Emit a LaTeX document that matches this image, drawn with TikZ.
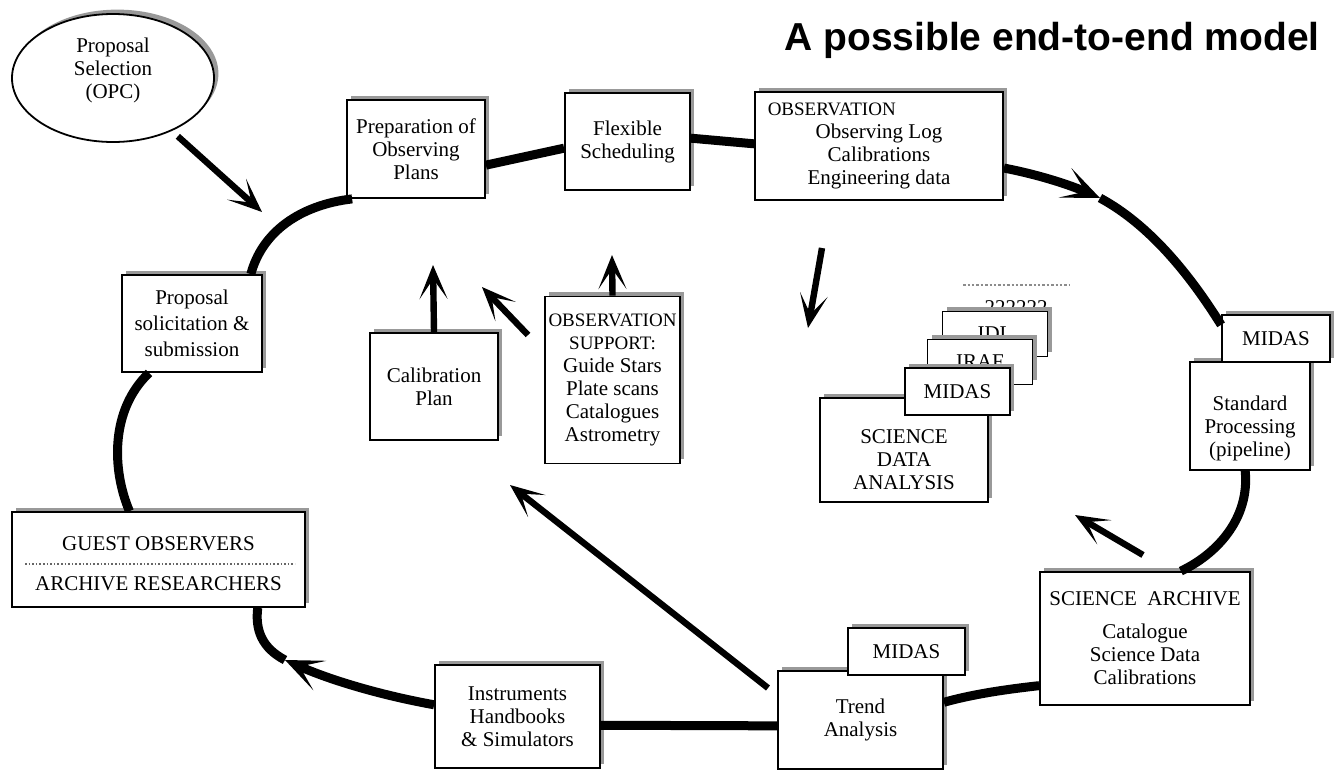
\documentclass[tikz,border=0pt]{standalone}
\usepackage{fontspec}
\setmainfont{Liberation Serif}
\newfontfamily\headfont{Liberation Sans}
\newcommand\capsz{\fontsize{9.5}{11.5}\selectfont}
\usetikzlibrary{arrows.meta,shadows,shapes.geometric}
\tikzset{
  box/.style={draw,line width=0.9pt,fill=white,align=center,inner sep=0pt,
    font=\fontsize{10.5}{11.5}\selectfont,
    drop shadow={shadow xshift=2.2pt,shadow yshift=2.2pt,fill=black!40,opacity=1}},
  txt/.style={align=center,inner sep=0pt,font=\fontsize{10.5}{11.5}\selectfont},
  ring/.style={line width=4.5pt},
  flow/.style={line width=3.2pt,-{Stealth[length=17pt,width=14pt,inset=10pt]}},
  ringtip/.style={ring,-{Stealth[length=19pt,width=16pt,inset=11pt]}},
}
\begin{document}
\begin{tikzpicture}[x=0.5pt,y=-0.5pt]
\useasboundingbox (0,0) rectangle (1334,772);
% title
\node[font=\headfont\bfseries\fontsize{19.5}{22}\selectfont] (title) at (1052,40) {A possible end-to-end model};
% proposal selection
\node[box,shape=ellipse,minimum width=101pt,minimum height=64pt] (opc) at (113,78) {};
\node[txt] (opclbl) at (113,70) {Proposal\\Selection\\(OPC)};
% boxes on the cycle
\node[box,minimum width=69pt,minimum height=49pt] (prep) at (416,149) {Preparation of\\Observing\\Plans};
\node[box,minimum width=62.5pt,minimum height=48.5pt] (flex) at (627.5,141.5) {Flexible\\Scheduling};
\node[box,minimum width=124pt,minimum height=54pt] (obs) at (879,146) {\hspace*{-4.5em}{\capsz OBSERVATION}\\Observing Log\\Calibrations\\Engineering data};
\node[box,minimum width=70pt,minimum height=48.5pt] (prop) at (192,323.5) {Proposal\\[1.5pt]solicitation \&\\[1.5pt]submission};
\node[box,minimum width=146.5pt,minimum height=47.5pt] (guest) at (158.5,559.5) {};
\node[txt] (guestA) at (158.5,544) {GUEST OBSERVERS};
\node[txt] (guestB) at (158.5,584) {ARCHIVE RESEARCHERS};
\draw[densely dotted,line width=0.8pt,black!60] (25,564) -- (295,564);
\node[box,minimum width=60pt,minimum height=54pt] (std) at (1250,416) {};
\node[txt] (stdlbl) at (1250,428) {Standard\\Processing\\(pipeline)};
\node[box,minimum width=54pt,minimum height=23.5pt] (midstd) at (1276,338.5) {MIDAS};
\node[box,minimum width=105pt,minimum height=66.5pt] (arch) at (1145,638.5) {SCIENCE\ \ ARCHIVE\\[5pt]Catalogue\\Science Data\\Calibrations};
\node[box,minimum width=82.5pt,minimum height=49pt] (trend) at (860.5,720) {Trend\\Analysis};
\node[box,minimum width=58.5pt,minimum height=23.5pt] (midtr) at (906.5,651.5) {MIDAS};
\node[box,minimum width=82.5pt,minimum height=51.5pt] (instr) at (517.5,716.5) {Instruments\\Handbooks\\\& Simulators};
% boxes inside the cycle
\node[box,minimum width=64pt,minimum height=53.5pt] (calib) at (434,386.5) {Calibration\\Plan};
\node[box,minimum width=67.5pt,minimum height=83.5pt] (sup) at (612.5,380) {{\capsz OBSERVATION}\\{\capsz SUPPORT:}\\Guide Stars\\Plate scans\\Catalogues\\Astrometry};
% stacked analysis packages
\node[txt,fill=white,minimum width=52.5pt,minimum height=22.5pt] (pk6) at (1016,308) {222222};
\draw[densely dotted,line width=1.2pt,black!45] (pk6.north west) -- (pk6.north east);
\node[box,minimum width=52.5pt,minimum height=22.5pt] (idl) at (995,334) {IDL};
\node[box,minimum width=52.5pt,minimum height=22.5pt] (iraf) at (980,362) {IRAF};
\node[box,minimum width=84pt,minimum height=52pt] (sda) at (904,450) {};
\node[txt] (sdalbl) at (904,460) {SCIENCE\\DATA\\ANALYSIS};
\node[box,minimum width=52.5pt,minimum height=23.5pt] (midsda) at (957.5,391.5) {MIDAS};
% free ends
\coordinate (opctip) at (262,212);
\coordinate (caltip) at (433,265);
\coordinate (suptail) at (528,335);
\coordinate (suptip) at (482,287);
\coordinate (fltip) at (612,255);
\coordinate (obstail) at (822,248);
\coordinate (obstip) at (808,328);
\coordinate (arctail) at (1143,555);
\coordinate (arctip) at (1075,515);
\coordinate (trtail) at (768,688);
\coordinate (trtip) at (510,485);
\coordinate (ringR) at (1100,198);
\coordinate (ringL) at (285,660);
% the cycle
\draw[ring] (guest.121) .. controls (112,470) and (110,410) .. (prop.229);
\draw[ring] (prop.40) .. controls (262,232) and (300,205) .. (prep.218);
\draw[ring] (prep.-13) -- (flex.186);
\draw[ring] (flex.3) -- (obs.179);
\draw[ringtip] (obs.-10) .. controls (1040,175) and (1070,185) .. (ringR);
\draw[ring] (ringR) .. controls (1150,225) and (1190,275) .. (midstd.166);
\draw[ring] (std.-95) .. controls (1250,520) and (1215,555) .. (arch.62);
\draw[ring] (arch.204) .. controls (1000,690) and (970,695) .. (trend.12);
\draw[ring] (trend.184) -- (instr.-6);
\draw[ringtip] (instr.172) .. controls (380,695) and (330,680) .. (ringL);
\draw[ring] (ringL) .. controls (262,648) and (255,630) .. (guest.-26);
% flows
\draw[flow,shorten <=4pt] (opc) -- (opctip);
\draw[flow] (calib.north) -- (caltip);
\draw[flow] (suptail) -- (suptip);
\draw[flow] (sup.north) -- (fltip);
\draw[flow] (obstail) -- (obstip);
\draw[flow] (arctail) -- (arctip);
\draw[flow] (trtail) -- (trtip);
\end{tikzpicture}
\end{document}
